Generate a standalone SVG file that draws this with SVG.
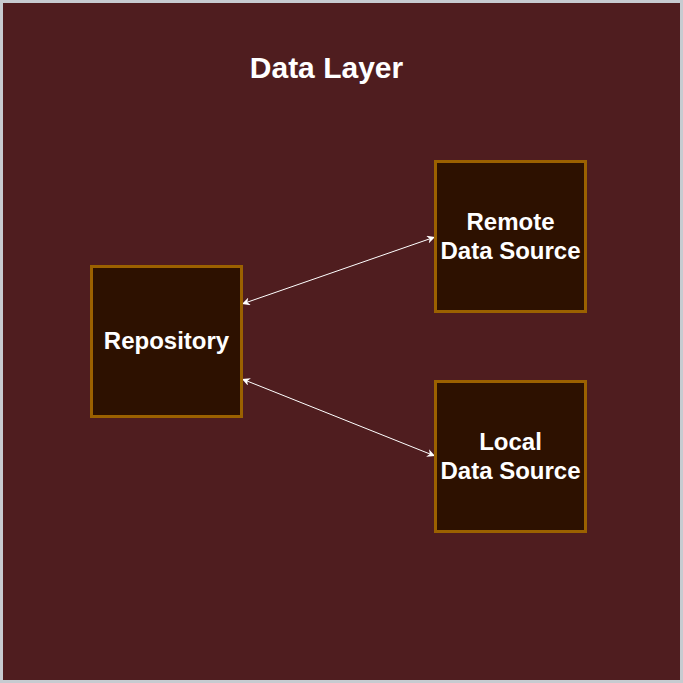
<svg xmlns="http://www.w3.org/2000/svg" width="683" height="683" viewBox="0 0 683 683">
<defs>
<style>
.node rect{fill:#2d1100;stroke:#9b6100;stroke-width:3}
.node text,.title{fill:#ffffff;font-family:"Liberation Sans",Arial,sans-serif;font-weight:bold;text-anchor:middle}
.node text{font-size:24px}
.title{font-size:30px}
.conn line{stroke:#ffffff;stroke-width:1}
</style>
<marker id="ah" viewBox="0 0 10 10" refX="10" refY="5" markerWidth="8" markerHeight="8" markerUnits="userSpaceOnUse" orient="auto-start-reverse">
<path d="M0,0 L10,5 L0,10 L3,5 Z" fill="#ffffff"/>
</marker>
</defs>
<rect x="0" y="0" width="683" height="683" fill="#c7cbd0"/>
<rect x="3" y="3" width="677" height="677" fill="#4f1d1f"/>
<text class="title" x="326.5" y="78">Data Layer</text>
<g class="conn">
<line x1="242" y1="304" x2="435" y2="237" marker-start="url(#ah)" marker-end="url(#ah)"/>
<line x1="242" y1="379" x2="435" y2="456" marker-start="url(#ah)" marker-end="url(#ah)"/>
</g>
<g id="repository" class="node">
<rect x="91.5" y="266.5" width="150" height="150"/>
<text x="166.5" y="349">Repository</text>
</g>
<g id="remote" class="node">
<rect x="435.5" y="161.5" width="150" height="150"/>
<text x="510.5" y="230">Remote</text>
<text x="510.5" y="259">Data Source</text>
</g>
<g id="local" class="node">
<rect x="435.5" y="381.5" width="150" height="150"/>
<text x="510.5" y="450">Local</text>
<text x="510.5" y="479">Data Source</text>
</g>
</svg>
